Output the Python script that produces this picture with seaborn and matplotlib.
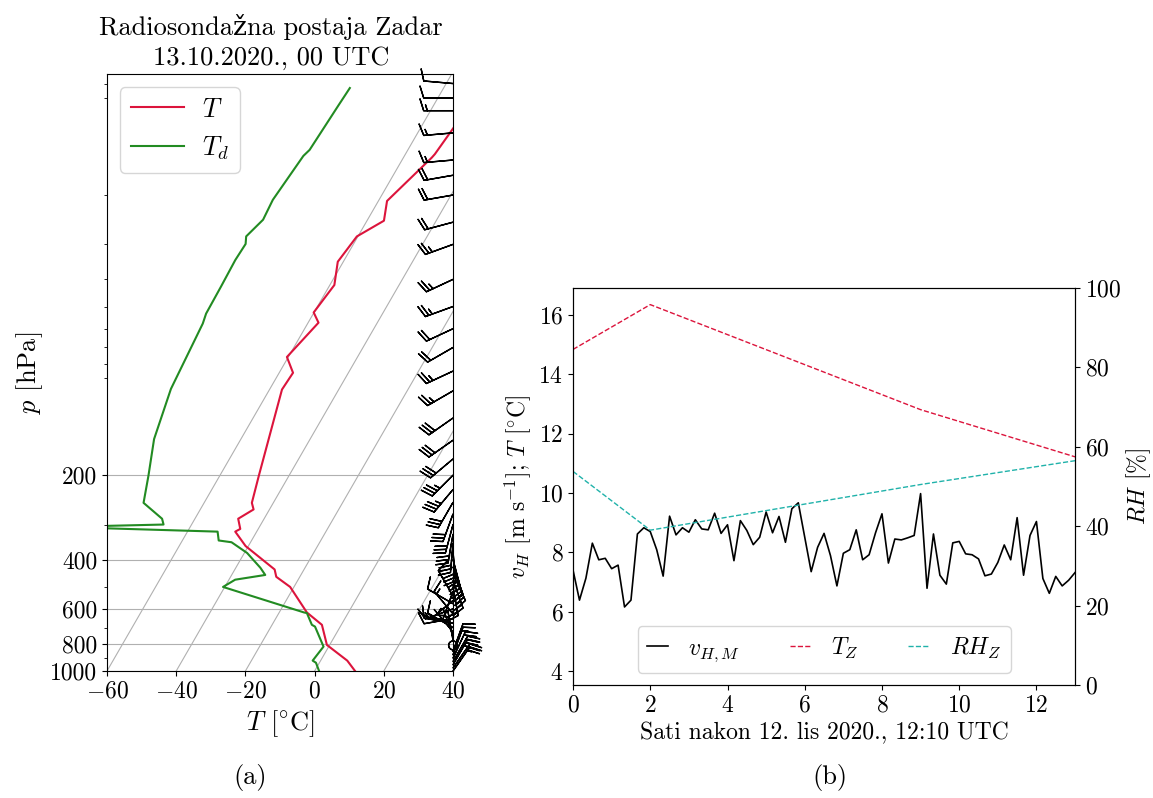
import numpy as np
import matplotlib
matplotlib.use("Agg")
import matplotlib.pyplot as plt
import matplotlib.transforms as mtransforms
from matplotlib.ticker import NullFormatter, FixedLocator, LogLocator
import seaborn as sns

# --- sounding Zadar, 13.10.2020. 00 UTC ---
p_t = [1000, 918, 807, 684, 618, 501, 461, 434, 358, 318, 311, 286, 265, 251,
       201, 98.9, 86.2, 75.7, 57.1, 52.5, 41.9, 34.6, 28.1, 24.7, 21.0, 14.7,
       14.3, 11.3]
t = [11.7, 7.7, -0.8, -5.6, -12.0, -21.1, -26.8, -28.5, -40.8, -46.2, -45.2,
     -47.5, -44.6, -46.2, -48.7, -56.4, -56.0, -60.4, -57.0, -60.1, -58.7,
     -61.6, -60.3, -55.1, -57.5, -51.8, -51.5, -50.4]

p_td = [1000, 934, 918, 818, 694, 684, 621, 618, 501, 472, 454, 428, 379, 347,
        342, 318, 306, 300, 286, 251, 201, 148.6, 98.4, 57.5, 53, 42.5, 34.1,
        29.9, 28.1, 24.5, 20.8, 14.5, 13.8, 9.6, 8.3]
td = [1.3, -1.0, -2.3, -1.5, -7.3, -8.5, -11.9, -12.8, -40.5, -38.2, -30.3,
      -32.9, -39.2, -45.5, -49.5, -51.3, -97.5, -68.1, -69.5, -77.5, -80.6,
      -85.1, -88.6, -90.3, -91.0, -91.2, -91.5, -91.2, -92.3, -90.2, -90.7,
      -89.2, -88.4, -87.5, -87.1]

# wind: pressure [hPa], direction [deg], speed [kt]
wind_p = [1000, 975, 950, 925, 900, 875, 850, 810, 775, 750, 725, 700, 675,
          650, 625, 600, 575, 560, 540, 520, 500, 475, 450, 425, 400, 375, 350,
          325, 300, 275, 250, 225, 200, 175, 150, 125, 100, 85, 70, 60, 50, 40,
          30, 25, 20, 17, 15, 12, 10, 9, 8]
wind_dir = [35, 35, 30, 30, 25, 20, 20, 0, 350, 340, 320, 300, 280, 260, 320,
            250, 300, 230, 330, 200, 170, 160, 155, 160, 165, 175, 185, 190,
            195, 200, 210, 220, 225, 230, 235, 235, 240, 245, 240, 245, 250,
            245, 250, 255, 260, 260, 265, 265, 270, 270, 275]
wind_spd = [20, 25, 25, 20, 20, 15, 10, 0, 5, 5, 5, 10, 10, 10, 15, 15, 10,
            15, 10, 15, 20, 25, 25, 25, 30, 30, 30, 30, 30, 30, 30, 35, 35, 30,
            30, 30, 25, 25, 20, 20, 25, 25, 25, 20, 20, 20, 15, 15, 15, 10, 10]

# --- surface station, 10-min data from 12.10.2020. 12:10 UTC ---
v_h = [7.40, 6.39, 7.13, 8.31, 7.75, 7.80, 7.45, 7.57, 6.16, 6.39, 8.62, 8.83,
       8.70, 8.09, 7.20, 9.22, 8.59, 8.83, 8.68, 9.10, 8.79, 8.76, 9.32, 8.64,
       8.93, 7.72, 9.07, 8.74, 8.26, 8.51, 9.36, 8.66, 9.21, 8.34, 9.47, 9.67,
       8.51, 7.35, 8.17, 8.64, 7.89, 6.87, 7.97, 8.09, 8.76, 7.75, 7.92, 8.66,
       9.30, 7.64, 8.45, 8.42, 8.49, 8.57, 9.98, 6.79, 8.62, 7.23, 6.93, 8.32,
       8.37, 7.95, 7.92, 7.78, 7.21, 7.27, 7.66, 8.25, 7.75, 9.17, 7.23, 8.57,
       9.04, 7.12, 6.62, 7.19, 6.87, 7.06, 7.32]
zh_hours = [0, 2, 9, 13]
t_z = [14.84, 16.35, 12.81, 11.22]
rh_z = [53.8, 39.0, 50.5, 56.5]

T_MIN, T_MAX = -60, 40
P_BOT, P_TOP = 1000, 7.4

plt.rcParams['font.family'] = ['cmr10', 'DejaVu Serif']
plt.rcParams['mathtext.fontset'] = 'cm'
plt.rcParams['axes.formatter.use_mathtext'] = True
plt.rcParams['font.size'] = 17

fig = plt.figure(figsize=(11.53, 7.98), dpi=100)
ax = fig.add_axes([0.0928, 0.1591, 0.3001, 0.7481])
ax2 = fig.add_axes([0.4970, 0.1416, 0.4354, 0.4975])

# skew factor like MetPy (isotherms 30 deg from vertical in screen space)
fw, fh = fig.get_size_inches() * fig.dpi
pos = ax.get_position()
px_per_dec = pos.height * fh / np.log10(P_BOT / P_TOP)
px_per_deg = pos.width * fw / (T_MAX - T_MIN)
K = np.tan(np.radians(30)) * px_per_dec / px_per_deg


def skew(temp, pres):
    return np.asarray(temp, float) + K * np.log10(P_BOT / np.asarray(pres, float))


ax.set_yscale('log')
p_line = np.array([P_BOT, P_TOP])
for iso in range(T_MIN, T_MAX + 1, 20):
    ax.plot(skew([iso, iso], p_line), p_line, color='#b0b0b0', lw=0.8, zorder=0)

sns.lineplot(x=skew(t, p_t), y=p_t, ax=ax, sort=False, estimator=None,
             color='crimson', lw=1.5, label='$T$')
sns.lineplot(x=skew(td, p_td), y=p_td, ax=ax, sort=False, estimator=None,
             color='forestgreen', lw=1.5, label='$T_d$')

wd = np.radians(wind_dir)
u = -np.asarray(wind_spd) * np.sin(wd)
v = -np.asarray(wind_spd) * np.cos(wd)
ax.barbs(np.ones(len(wind_p)), wind_p, u, v, length=6.5, linewidth=1.0,
         transform=mtransforms.blended_transform_factory(ax.transAxes, ax.transData),
         clip_on=False, zorder=3)

ax.set_xlim(T_MIN, T_MAX)
ax.set_ylim(P_BOT, P_TOP)
ax.yaxis.set_major_locator(FixedLocator([1000, 800, 600, 400, 200]))
ax.yaxis.set_major_formatter(plt.FuncFormatter(lambda x, _: f"{x:.0f}"))
ax.yaxis.set_minor_locator(LogLocator(subs=np.arange(2, 10)))
ax.yaxis.set_minor_formatter(NullFormatter())
ax.set_xticks(range(T_MIN, T_MAX + 1, 20))
ax.grid(axis='y', color='#b0b0b0', lw=0.8)
ax.set_ylabel('$p$ [hPa]', fontsize=19)
ax.set_xlabel(r'$T$ [$^{\circ}$C]', fontsize=19)
ax.set_title('Radiosondažna postaja Zadar\n13.10.2020., 00 UTC', fontsize=19,
             pad=7, x=0.474, linespacing=1.3)
ax.legend(loc='upper left', fontsize=19, handlelength=2.0, handletextpad=0.7)

# --- surface time series ---
hours = np.arange(len(v_h)) * 10 / 60
sns.lineplot(x=hours, y=v_h, ax=ax2, color='black', lw=1.2, label='$v_{H,M}$',
             legend=False)
sns.lineplot(x=zh_hours, y=t_z, ax=ax2, color='crimson', lw=1.0,
             linestyle='--', label='$T_Z$', legend=False)
ax3 = ax2.twinx()
sns.lineplot(x=zh_hours, y=rh_z, ax=ax3, color='lightseagreen', lw=1.0,
             linestyle='--', label='$RH_Z$', legend=False)

ax2.set_xlim(0, 13)
ax2.set_ylim(3.53, 16.91)
ax2.set_yticks(range(4, 17, 2))
ax3.set_ylim(0, 100)
ax2.set_xlabel('Sati nakon 12. lis 2020., 12:10 UTC')
ax2.set_ylabel(r'$v_H$ [m s$^{-1}$]; $T$ [$^{\circ}$C]')
ax3.set_ylabel(r'$RH$ [%]', labelpad=2)
h1, l1 = ax2.get_legend_handles_labels()
h2, l2 = ax3.get_legend_handles_labels()
ax3.legend(h1 + h2, l1 + l2, loc='lower center', ncol=3, fontsize=17,
           handlelength=0.9, handletextpad=0.85, columnspacing=2.1)

fig.text(0.2168, 0.026, '(a)', ha='center', va='center', fontsize=19)
fig.text(0.7200, 0.026, '(b)', ha='center', va='center', fontsize=19)

fig.savefig('out.png', dpi=100)
